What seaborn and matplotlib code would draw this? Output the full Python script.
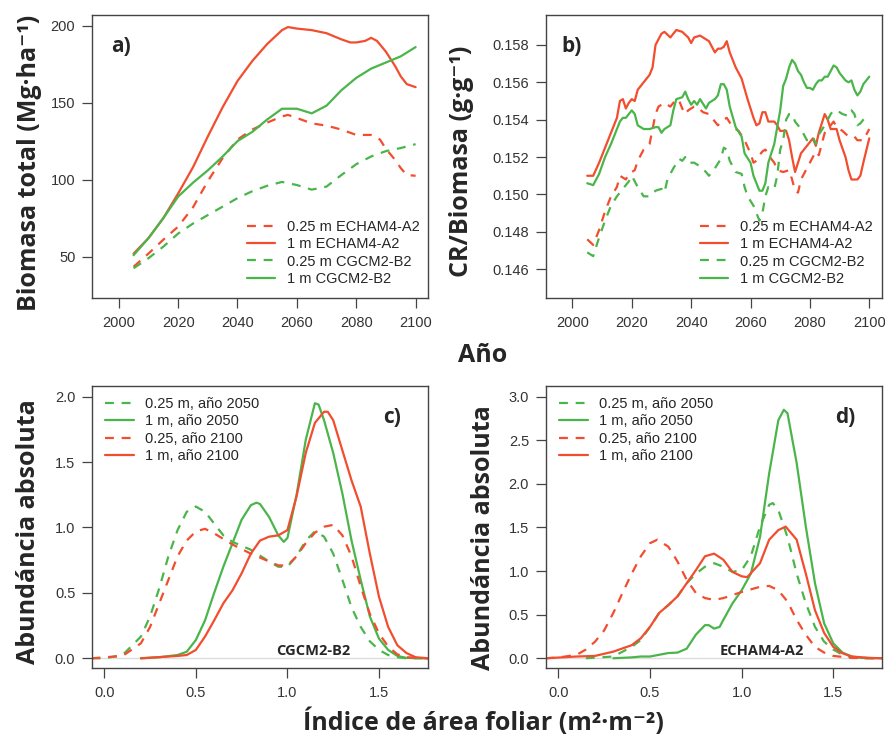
import numpy as np
import pandas as pd
import matplotlib.pyplot as plt
import seaborn as sns
from matplotlib.lines import Line2D

RED = "#f24d2e"
GREEN = "#4ab54a"
DASH = (0, (4, 3.5))
SOLID = "-"

# a) Biomasa total (Mg/ha)
years_a = [2005, 2010, 2015, 2020, 2025, 2030, 2035, 2040, 2045, 2050,
           2055, 2060, 2065, 2070, 2075, 2080, 2085, 2090, 2095, 2100]
years_a_r1 = [2005, 2010, 2015, 2020, 2025, 2030, 2035, 2040, 2045, 2050, 2055, 2057, 2060,
              2065, 2070, 2075, 2078, 2080, 2083, 2085, 2087, 2090, 2093, 2095, 2097, 2100]
bio_r1 = [52, 62, 75, 91, 108, 128, 147, 164, 177, 188, 197, 199, 198,
          197, 195, 191, 189, 189, 190, 192, 190, 183, 174, 167, 162, 160]
years_a_r025 = [2005, 2010, 2015, 2020, 2025, 2030, 2035, 2040, 2045, 2050, 2055, 2057,
                2060, 2065, 2070, 2075, 2080, 2085, 2088, 2090, 2093, 2095, 2097, 2100]
bio_r025 = [43.5, 52, 61, 69.5, 82, 99, 114, 126, 132.5, 137, 141, 142,
            140, 136.5, 135, 132.5, 129, 129, 126, 120, 113, 107.5, 103, 102.5]
bio_g1 = [51, 62, 75, 89, 98, 106, 115, 125, 131, 139,
          146, 146, 143, 148, 158, 166, 172, 176, 180, 186]
bio_g025 = [42.5, 49, 56.5, 65, 71.5, 77, 82.5, 88, 92.5, 96,
            98.5, 96.5, 93.5, 95.5, 103, 110, 115, 118.5, 120.5, 123]

# b) CR/Biomasa (g/g)
years_b_r1 = [2005, 2007, 2009, 2011, 2013, 2015, 2016, 2017, 2018, 2019, 2020, 2021, 2022, 2024,
              2026, 2027, 2028, 2030, 2031, 2033, 2035, 2037, 2039, 2040, 2041, 2043, 2045, 2046,
              2048, 2049, 2050, 2051, 2052, 2053, 2055, 2057, 2059, 2061, 2062, 2063, 2064, 2065,
              2066, 2068, 2069, 2070, 2072, 2073, 2074, 2075, 2076, 2077, 2079, 2081, 2082, 2083,
              2085, 2086, 2087, 2089, 2090, 2092, 2093, 2094, 2096, 2097, 2098, 2100]
cr_r1 = [0.1510, 0.1510, 0.1517, 0.1525, 0.1533, 0.1541, 0.1550, 0.1551, 0.1546, 0.1549, 0.1551,
         0.1550, 0.1556, 0.1560, 0.1564, 0.1568, 0.1580, 0.1586, 0.1587, 0.1584, 0.1588, 0.1587,
         0.1584, 0.1581, 0.1584, 0.1585, 0.1583, 0.1582, 0.1576, 0.1578, 0.1578, 0.1579, 0.1582,
         0.1576, 0.1568, 0.1562, 0.1551, 0.1541, 0.1537, 0.1538, 0.1544, 0.1544, 0.1539, 0.1539,
         0.1537, 0.1534, 0.1534, 0.1529, 0.1520, 0.1512, 0.1517, 0.1522, 0.1526, 0.1530, 0.1526,
         0.1533, 0.1543, 0.1540, 0.1535, 0.1535, 0.1529, 0.1520, 0.1513, 0.1508, 0.1508, 0.1510,
         0.1517, 0.1530]
years_b_g1 = [2005, 2007, 2009, 2011, 2013, 2015, 2016, 2017, 2018, 2019, 2020, 2021, 2022, 2024,
              2026, 2028, 2029, 2030, 2031, 2033, 2034, 2035, 2037, 2038, 2039, 2040, 2041, 2042,
              2043, 2045, 2046, 2048, 2049, 2050, 2051, 2052, 2053, 2055, 2057, 2058, 2060, 2061,
              2063, 2064, 2065, 2066, 2068, 2070, 2071, 2072, 2073, 2074, 2075, 2076, 2077, 2078,
              2079, 2080, 2081, 2082, 2083, 2084, 2085, 2086, 2087, 2088, 2089, 2090, 2092, 2093,
              2094, 2095, 2096, 2097, 2098, 2100]
cr_g1 = [0.1506, 0.1505, 0.1511, 0.1520, 0.1527, 0.1535, 0.1539, 0.1541, 0.1541, 0.1543, 0.1545,
         0.1543, 0.1537, 0.1535, 0.1535, 0.1536, 0.1536, 0.1533, 0.1535, 0.1537, 0.1545, 0.1551,
         0.1552, 0.1555, 0.1551, 0.1548, 0.1550, 0.1548, 0.1551, 0.1546, 0.1549, 0.1551, 0.1553,
         0.1559, 0.1559, 0.1556, 0.1547, 0.1536, 0.1531, 0.1522, 0.1517, 0.1510, 0.1502, 0.1502,
         0.1506, 0.1517, 0.1527, 0.1545, 0.1558, 0.1562, 0.1568, 0.1572, 0.1570, 0.1566, 0.1564,
         0.1560, 0.1557, 0.1557, 0.1556, 0.1559, 0.1561, 0.1561, 0.1563, 0.1563, 0.1566, 0.1569,
         0.1568, 0.1565, 0.1561, 0.1560, 0.1561, 0.1556, 0.1553, 0.1555, 0.1559, 0.1563]
years_b_r025 = [2005, 2007, 2009, 2011, 2013, 2015, 2016, 2018, 2019, 2021, 2022, 2024, 2026,
                2027, 2028, 2029, 2031, 2033, 2035, 2036, 2037, 2038, 2039, 2041, 2042, 2044,
                2046, 2048, 2049, 2051, 2052, 2054, 2056, 2058, 2060, 2061, 2062, 2063, 2064,
                2065, 2067, 2068, 2069, 2071, 2073, 2074, 2075, 2076, 2077, 2079, 2081, 2082,
                2083, 2085, 2087, 2088, 2089, 2091, 2093, 2095, 2096, 2098, 2100]
cr_r025 = [0.1476, 0.1473, 0.1481, 0.1491, 0.1499, 0.1504, 0.1510, 0.1508, 0.1511, 0.1513, 0.1518,
           0.1524, 0.1527, 0.1535, 0.1543, 0.1547, 0.1549, 0.1547, 0.1551, 0.1550, 0.1546, 0.1543,
           0.1545, 0.1547, 0.1547, 0.1544, 0.1543, 0.1539, 0.1537, 0.1540, 0.1541, 0.1536, 0.1534,
           0.1529, 0.1522, 0.1517, 0.1518, 0.1521, 0.1523, 0.1524, 0.1519, 0.1517, 0.1513, 0.1512,
           0.1513, 0.1508, 0.1502, 0.1501, 0.1508, 0.1514, 0.1520, 0.1523, 0.1521, 0.1533, 0.1537,
           0.1539, 0.1536, 0.1534, 0.1531, 0.1531, 0.1529, 0.1529, 0.1535]
years_b_g025 = [2005, 2007, 2009, 2011, 2013, 2015, 2017, 2019, 2020, 2021, 2022, 2024, 2026,
                2028, 2030, 2031, 2032, 2034, 2036, 2037, 2038, 2039, 2041, 2043, 2045, 2046,
                2048, 2050, 2051, 2052, 2053, 2055, 2057, 2058, 2059, 2061, 2062, 2063, 2064,
                2065, 2066, 2068, 2069, 2070, 2071, 2072, 2073, 2074, 2075, 2077, 2079, 2081,
                2082, 2083, 2085, 2087, 2088, 2090, 2091, 2093, 2094, 2095, 2096, 2097, 2098, 2100]
cr_g025 = [0.1469, 0.1467, 0.1477, 0.1486, 0.1494, 0.1499, 0.1503, 0.1507, 0.1510, 0.1507, 0.1504,
           0.1499, 0.1499, 0.1502, 0.1503, 0.1501, 0.1508, 0.1514, 0.1519, 0.1518, 0.1520, 0.1517,
           0.1517, 0.1515, 0.1512, 0.1510, 0.1514, 0.1519, 0.1525, 0.1524, 0.1518, 0.1512, 0.1511,
           0.1504, 0.1499, 0.1494, 0.1490, 0.1486, 0.1490, 0.1499, 0.1504, 0.1503, 0.1510, 0.1524,
           0.1529, 0.1540, 0.1543, 0.1543, 0.1539, 0.1535, 0.1529, 0.1531, 0.1527, 0.1532, 0.1537,
           0.1543, 0.1545, 0.1544, 0.1543, 0.1542, 0.1545, 0.1543, 0.1537, 0.1538, 0.1540, 0.1543]

# c) CGCM2-B2 leaf area index distributions
lai_c_g025 = [-0.07, 0.0, 0.1, 0.2, 0.25, 0.3, 0.35, 0.4, 0.45, 0.5, 0.55, 0.6, 0.65, 0.7, 0.8, 0.9,
              0.95, 1.0, 1.05, 1.1, 1.15, 1.2, 1.25, 1.3, 1.35, 1.4, 1.45, 1.5, 1.55, 1.6, 1.65, 1.77]
ab_c_g025 = [0, 0, 0.025, 0.166, 0.32, 0.535, 0.78, 0.98, 1.12, 1.16, 1.12, 1.03, 0.94, 0.89, 0.83,
             0.74, 0.70, 0.70, 0.78, 0.90, 0.97, 0.93, 0.80, 0.60, 0.39, 0.24, 0.13, 0.064, 0.025,
             0.008, 0, 0]
lai_c_g1 = [0.2, 0.3, 0.4, 0.45, 0.5, 0.55, 0.6, 0.65, 0.7, 0.75, 0.8, 0.83, 0.85, 0.9, 0.95, 0.98,
            1.0, 1.05, 1.1, 1.15, 1.17, 1.2, 1.25, 1.3, 1.35, 1.4, 1.45, 1.5, 1.55, 1.6, 1.65, 1.77]
ab_c_g1 = [0, 0.008, 0.025, 0.05, 0.14, 0.29, 0.50, 0.70, 0.88, 1.06, 1.17, 1.19, 1.18, 1.08, 0.94,
           0.89, 0.92, 1.25, 1.67, 1.95, 1.94, 1.82, 1.57, 1.26, 0.90, 0.60, 0.32, 0.15, 0.064,
           0.018, 0.003, 0]
lai_c_r025 = [-0.07, 0.1, 0.2, 0.25, 0.3, 0.35, 0.4, 0.45, 0.5, 0.55, 0.6, 0.7, 0.8, 0.9, 0.95, 1.0,
              1.05, 1.1, 1.15, 1.2, 1.25, 1.3, 1.35, 1.4, 1.45, 1.5, 1.55, 1.6, 1.65, 1.77]
ab_c_r025 = [0, 0.018, 0.115, 0.24, 0.42, 0.60, 0.78, 0.90, 0.97, 0.99, 0.955, 0.87, 0.80, 0.74,
             0.71, 0.71, 0.78, 0.88, 0.96, 1.006, 1.02, 0.94, 0.78, 0.55, 0.34, 0.19, 0.09, 0.03,
             0.008, 0]
lai_c_r1 = [0.2, 0.4, 0.45, 0.5, 0.55, 0.6, 0.65, 0.7, 0.75, 0.8, 0.85, 0.9, 0.95, 1.0, 1.05, 1.1,
            1.15, 1.2, 1.22, 1.25, 1.3, 1.35, 1.4, 1.45, 1.5, 1.55, 1.6, 1.65, 1.7, 1.77]
ab_c_r1 = [0, 0.018, 0.025, 0.064, 0.166, 0.29, 0.42, 0.52, 0.65, 0.80, 0.90, 0.93, 0.94, 0.98,
           1.24, 1.57, 1.80, 1.885, 1.885, 1.82, 1.59, 1.36, 1.16, 0.80, 0.47, 0.24, 0.10, 0.04,
           0.008, 0]

# d) ECHAM4-A2 leaf area index distributions
lai_d_g025 = [0.15, 0.3, 0.4, 0.45, 0.5, 0.55, 0.6, 0.65, 0.7, 0.75, 0.8, 0.85, 0.9, 0.95, 1.0,
              1.05, 1.1, 1.15, 1.17, 1.2, 1.25, 1.3, 1.35, 1.4, 1.45, 1.5, 1.55, 1.6, 1.65, 1.77]
ab_d_g025 = [0, 0.02, 0.13, 0.21, 0.36, 0.52, 0.61, 0.71, 0.86, 0.97, 1.05, 1.09, 1.05, 0.99, 1.01,
             1.17, 1.51, 1.76, 1.78, 1.70, 1.39, 0.97, 0.63, 0.36, 0.19, 0.10, 0.04, 0.01, 0, 0]
lai_d_g1 = [0.3, 0.4, 0.45, 0.5, 0.55, 0.6, 0.65, 0.7, 0.75, 0.8, 0.82, 0.85, 0.88, 0.9, 0.95, 1.0,
            1.05, 1.1, 1.15, 1.2, 1.23, 1.25, 1.3, 1.35, 1.4, 1.45, 1.5, 1.55, 1.6, 1.65, 1.77]
ab_d_g1 = [0, 0.01, 0.02, 0.02, 0.04, 0.06, 0.065, 0.11, 0.27, 0.38, 0.38, 0.34, 0.36, 0.44, 0.63,
           0.78, 0.97, 1.39, 2.12, 2.73, 2.85, 2.81, 2.24, 1.51, 0.86, 0.40, 0.17, 0.065, 0.02,
           0.004, 0]
lai_d_r025 = [-0.07, 0.0, 0.1, 0.15, 0.2, 0.25, 0.3, 0.35, 0.4, 0.45, 0.5, 0.54, 0.6, 0.65, 0.7,
              0.75, 0.8, 0.85, 0.9, 1.0, 1.1, 1.15, 1.2, 1.25, 1.3, 1.35, 1.4, 1.45, 1.5, 1.6, 1.77]
ab_d_r025 = [0, 0.008, 0.04, 0.10, 0.19, 0.32, 0.52, 0.75, 0.97, 1.17, 1.32, 1.36, 1.28, 1.11, 0.90,
             0.75, 0.69, 0.67, 0.69, 0.76, 0.82, 0.83, 0.78, 0.65, 0.44, 0.27, 0.13, 0.065, 0.027,
             0.004, 0]
lai_d_r1 = [-0.07, 0.1, 0.2, 0.3, 0.4, 0.45, 0.5, 0.55, 0.6, 0.65, 0.7, 0.75, 0.8, 0.85, 0.9, 0.95,
            1.0, 1.03, 1.1, 1.15, 1.2, 1.24, 1.3, 1.35, 1.4, 1.45, 1.5, 1.55, 1.6, 1.7, 1.77]
ab_d_r1 = [0, 0.02, 0.027, 0.076, 0.15, 0.23, 0.36, 0.52, 0.61, 0.71, 0.86, 1.01, 1.17, 1.20, 1.13,
           0.99, 0.94, 0.93, 1.09, 1.36, 1.47, 1.51, 1.36, 0.97, 0.55, 0.29, 0.13, 0.057, 0.02,
           0.004, 0]

labels_ab = ["0.25 m ECHAM4-A2", "1 m ECHAM4-A2", "0.25 m CGCM2-B2", "1 m CGCM2-B2"]
labels_cd = ["0.25 m, año 2050", "1 m, año 2050", "0.25, año 2100", "1 m, año 2100"]

sns.set_theme(style="ticks")
plt.rcParams["font.family"] = ["Liberation Sans", "DejaVu Sans"]
BOLD = ["Open Sans", "DejaVu Sans"]
AXC = "#444444"

fig = plt.figure(figsize=(8.85, 7.4), dpi=100)
ax_a = fig.add_axes([0.1040, 0.5973, 0.3797, 0.3824])
ax_b = fig.add_axes([0.6166, 0.5973, 0.3797, 0.3824])
ax_c = fig.add_axes([0.1040, 0.0969, 0.3797, 0.3815])
ax_d = fig.add_axes([0.6166, 0.0969, 0.3797, 0.3815])


def draw(ax, x, y, color, ls):
    sns.lineplot(x=x, y=y, ax=ax, color=color, linestyle=ls, linewidth=1.6,
                 estimator=None, sort=False)


def style(ax):
    for s in ax.spines.values():
        s.set_color(AXC)
        s.set_linewidth(1.0)
    ax.tick_params(direction="out", length=7, width=0.9, color=AXC,
                   labelsize=10.5, labelcolor="#333333")
    ax.tick_params(axis="x", pad=6)
    ax.tick_params(axis="y", pad=5)
    ax.set_xlabel("")
    ax.set_ylabel("")


def legend(ax, entries, x, y):
    handles = [Line2D([], [], color=c, linestyle=ls, linewidth=1.6) for c, ls in entries]
    ax.legend(handles, labels, loc="upper left", bbox_to_anchor=(x, y), frameon=False,
              fontsize=10.5, handlelength=1.95, handletextpad=0.8, labelspacing=0.22,
              borderpad=0, borderaxespad=0)


# panel a
draw(ax_a, years_a_r025, bio_r025, RED, DASH)
draw(ax_a, years_a_r1, bio_r1, RED, SOLID)
draw(ax_a, years_a, bio_g025, GREEN, DASH)
draw(ax_a, years_a, bio_g1, GREEN, SOLID)
ax_a.set_xlim(1991, 2104.2)
ax_a.set_ylim(23.2, 206.8)
ax_a.set_xticks(range(2000, 2101, 20))
ax_a.set_yticks([50, 100, 150, 200])

# panel b
draw(ax_b, years_b_r025, cr_r025, RED, DASH)
draw(ax_b, years_b_r1, cr_r1, RED, SOLID)
draw(ax_b, years_b_g025, cr_g025, GREEN, DASH)
draw(ax_b, years_b_g1, cr_g1, GREEN, SOLID)
ax_b.set_xlim(1991, 2104.2)
ax_b.set_ylim(0.14446, 0.1596)
ax_b.set_xticks(range(2000, 2101, 20))
ax_b.set_yticks(np.arange(0.146, 0.1585, 0.002))
ax_b.set_yticklabels([f"{v:.3f}" for v in np.arange(0.146, 0.1585, 0.002)])

# panel c
ax_c.axhline(0, color="#dddddd", linewidth=1.0, zorder=0)
draw(ax_c, lai_c_g025, ab_c_g025, GREEN, DASH)
draw(ax_c, lai_c_g1, ab_c_g1, GREEN, SOLID)
draw(ax_c, lai_c_r025, ab_c_r025, RED, DASH)
draw(ax_c, lai_c_r1, ab_c_r1, RED, SOLID)
ax_c.set_xlim(-0.067, 1.768)
ax_c.set_ylim(-0.0765, 2.082)
ax_c.set_yticks([0, 0.5, 1.0, 1.5, 2.0])

# panel d
ax_d.axhline(0, color="#dddddd", linewidth=1.0, zorder=0)
draw(ax_d, lai_d_g025, ab_d_g025, GREEN, DASH)
draw(ax_d, lai_d_g1, ab_d_g1, GREEN, SOLID)
draw(ax_d, lai_d_r025, ab_d_r025, RED, DASH)
draw(ax_d, lai_d_r1, ab_d_r1, RED, SOLID)
ax_d.set_xlim(-0.069, 1.764)
ax_d.set_ylim(-0.115, 3.123)
ax_d.set_yticks([0, 0.5, 1.0, 1.5, 2.0, 2.5, 3.0])

for ax in (ax_c, ax_d):
    ax.set_xticks([0, 0.5, 1.0, 1.5])
    ax.set_xticklabels(["0.0", "0.5", "1.0", "1.5"])
    ax.set_yticklabels([f"{v:.1f}" for v in ax.get_yticks()])

for ax in (ax_a, ax_b, ax_c, ax_d):
    style(ax)

labels = labels_ab
legend(ax_a, [(RED, DASH), (RED, SOLID), (GREEN, DASH), (GREEN, SOLID)], 0.461, 0.275)
legend(ax_b, [(RED, DASH), (RED, SOLID), (GREEN, DASH), (GREEN, SOLID)], 0.459, 0.275)
labels = labels_cd
legend(ax_c, [(GREEN, DASH), (GREEN, SOLID), (RED, DASH), (RED, SOLID)], 0.039, 0.96)
legend(ax_d, [(GREEN, DASH), (GREEN, SOLID), (RED, DASH), (RED, SOLID)], 0.040, 0.96)

# panel letters and scenario tags
for ax, txt, x, y in [(ax_a, "a)", 0.086, 0.887), (ax_b, "b)", 0.078, 0.887),
                      (ax_c, "c)", 0.893, 0.890), (ax_d, "d)", 0.891, 0.890)]:
    ax.text(x, y, txt, transform=ax.transAxes, ha="center", va="center",
            fontsize=15, fontweight="bold", family=BOLD)
ax_c.text(0.659, 0.061, "CGCM2-B2", transform=ax_c.transAxes, ha="center", va="center",
          fontsize=10.5, fontweight="bold", family=BOLD)
ax_d.text(0.642, 0.061, "ECHAM4-A2", transform=ax_d.transAxes, ha="center", va="center",
          fontsize=10.5, fontweight="bold", family=BOLD)

# axis titles
kw = dict(fontsize=18, fontweight="bold", family=BOLD, ha="center", va="center")
fig.text(0.033, 0.780, "Biomasa total (Mg·ha⁻¹)", rotation=90, **kw)
fig.text(0.522, 0.782, "CR/Biomasa (g·g⁻¹)", rotation=90, **kw)
fig.text(0.545, 0.519, "Año", **kw)
fig.text(0.032, 0.281, "Abundáncia absoluta", rotation=90, **kw)
fig.text(0.546, 0.274, "Abundáncia absoluta", rotation=90, **kw)
fig.text(0.546, 0.024, "Índice de área foliar (m²·m⁻²)", **kw)

fig.savefig("out.png", dpi=100)
